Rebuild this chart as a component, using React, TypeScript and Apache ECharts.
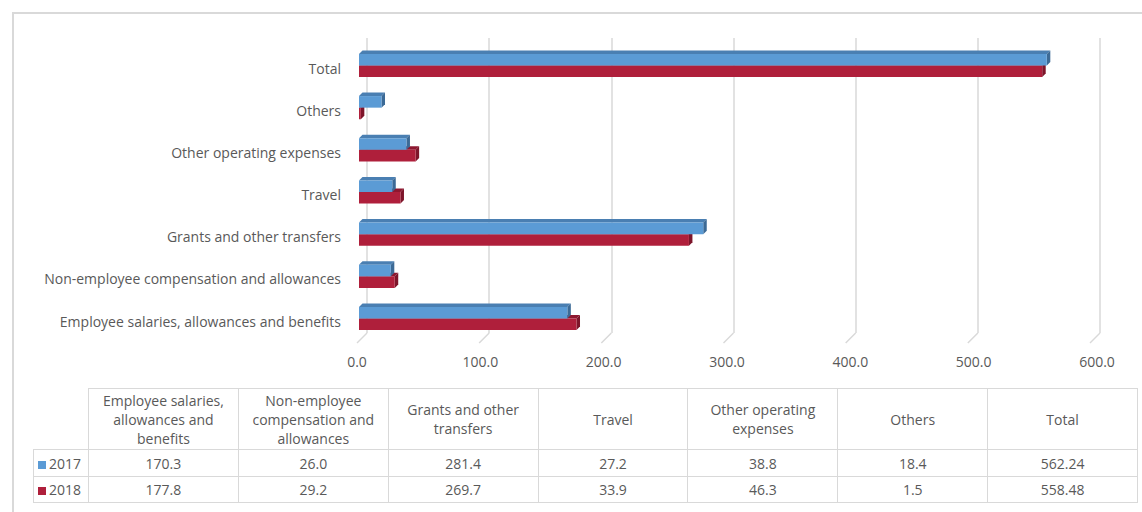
import React, { useEffect, useRef } from "react";
import * as echarts from "echarts";

const categories = [
  "Employee salaries, allowances and benefits",
  "Non-employee compensation and allowances",
  "Grants and other transfers",
  "Travel",
  "Other operating expenses",
  "Others",
  "Total",
];
const tableHeaders = [
  "Employee salaries,\nallowances and\nbenefits",
  "Non-employee\ncompensation and\nallowances",
  "Grants and other\ntransfers",
  "Travel",
  "Other operating\nexpenses",
  "Others",
  "Total",
];
const values2017 = [170.3, 26.0, 281.4, 27.2, 38.8, 18.4, 562.24];
const values2018 = [177.8, 29.2, 269.7, 33.9, 46.3, 1.5, 558.48];
const tableDecimals = [1, 1, 1, 1, 1, 1, 2];
const seriesNames = ["2017", "2018"];
const axisMin = 0;
const axisMax = 600;
const axisInterval = 100;
const wallTicks = [0, 100, 200, 300, 400, 500, 600];

const FONT = "'Open Sans', 'Noto Sans', sans-serif";
const TEXT = "#595959";
const GRID = "#D9D9D9";
const BLUE = { front: "#5B9BD5", top: "#4A7FB2", side: "#3C6A96" };
const RED = { front: "#AF1F3B", top: "#8E1830", side: "#7D152A" };

function bar3D(colors: any, upper: boolean) {
  return (params: any, api: any) => {
    const v = api.value(0);
    const cat = api.value(1);
    const p0 = api.coord([0, cat]);
    const p1 = api.coord([v, cat]);
    const band = api.size([0, 1])[1];
    const h = band * 0.275;
    const d = 3.5;
    const x0 = p0[0];
    const x1 = p1[0];
    const yTop = upper ? p0[1] - h : p0[1];
    return {
      type: "group",
      children: [
        {
          type: "polygon",
          shape: { points: [[x0, yTop], [x0 + d, yTop - d], [x1 + d, yTop - d], [x1, yTop]] },
          style: { fill: colors.top },
        },
        {
          type: "polygon",
          shape: { points: [[x1, yTop], [x1 + d, yTop - d], [x1 + d, yTop + h - d], [x1, yTop + h]] },
          style: { fill: colors.side },
        },
        {
          type: "rect",
          shape: { x: x0, y: yTop, width: Math.max(x1 - x0, 0.5), height: h },
          style: { fill: colors.front },
        },
      ],
    };
  };
}

export default function App() {
  const ref = useRef<HTMLDivElement>(null);
  useEffect(() => {
    if (!ref.current) return;
    const chart = echarts.init(ref.current, null, { renderer: "svg" });
    const hiddenAxis = {
      axisLabel: { show: false },
      axisLine: { show: false },
      axisTick: { show: false },
      splitLine: { show: false },
    };
    chart.setOption({
      animation: false,
      textStyle: { fontFamily: FONT },
      grid: [
        { left: 359, width: 734, top: 44.4, height: 295.2 },
        { left: 367, width: 733, top: 38, height: 295 },
        { left: 357, width: 740, top: 343, height: 1 },
        { left: 359, width: 734, top: 47, height: 295.2 },
      ],
      xAxis: [
        { gridIndex: 0, type: "value", min: axisMin, max: axisMax, interval: axisInterval, ...hiddenAxis },
        {
          gridIndex: 1, type: "value", min: axisMin, max: axisMax, interval: axisInterval,
          axisLabel: { show: false }, axisLine: { show: false }, axisTick: { show: false },
          splitLine: { show: true, lineStyle: { color: GRID, width: 1.5 } },
        },
        {
          gridIndex: 2, type: "value", min: axisMin, max: axisMax, interval: axisInterval,
          axisLine: { show: false }, axisTick: { show: false }, splitLine: { show: false },
          axisLabel: { show: true, color: TEXT, fontSize: 14, fontFamily: FONT, margin: 10, formatter: (v: number) => v.toFixed(1) },
        },
        { gridIndex: 3, type: "value", min: axisMin, max: axisMax, interval: axisInterval, ...hiddenAxis },
      ],
      yAxis: [
        { gridIndex: 0, type: "category", data: categories, ...hiddenAxis },
        { gridIndex: 1, type: "value", min: 0, max: 1, show: false },
        { gridIndex: 2, type: "value", min: 0, max: 1, show: false },
        {
          gridIndex: 3, type: "category", data: categories,
          axisLine: { show: false }, axisTick: { show: false }, splitLine: { show: false },
          axisLabel: { color: TEXT, fontSize: 14, fontFamily: FONT, margin: 18 },
        },
      ],
      series: [
        {
          type: "custom",
          xAxisIndex: 1,
          yAxisIndex: 1,
          data: wallTicks.map((t) => [t, 0]),
          encode: { x: 0, y: 1 },
          renderItem: (params: any, api: any) => {
            const p = api.coord([api.value(0), 0]);
            return {
              type: "line",
              shape: { x1: p[0], y1: p[1], x2: p[0] - 10, y2: p[1] + 10 },
              style: { stroke: GRID, lineWidth: 1.5 },
            };
          },
          silent: true,
        },
        {
          type: "custom",
          name: seriesNames[1],
          xAxisIndex: 0,
          yAxisIndex: 0,
          data: values2018.map((v, i) => [v, i]),
          encode: { x: 0, y: 1 },
          renderItem: bar3D(RED, false),
        },
        {
          type: "custom",
          name: seriesNames[0],
          xAxisIndex: 0,
          yAxisIndex: 0,
          data: values2017.map((v, i) => [v, i]),
          encode: { x: 0, y: 1 },
          renderItem: bar3D(BLUE, true),
        },
      ],
    });
    return () => chart.dispose();
  }, []);

  const cellBase: React.CSSProperties = {
    border: `1px solid ${GRID}`,
    textAlign: "center",
    verticalAlign: "middle",
    padding: 0,
    color: TEXT,
    fontSize: 14,
    fontFamily: FONT,
  };
  const rows = [
    { name: seriesNames[0], color: BLUE.front, values: values2017 },
    { name: seriesNames[1], color: RED.front, values: values2018 },
  ];
  const colW = 149.86;

  return (
    <div style={{ position: "fixed", left: 0, top: 0, width: 1142, height: 512, overflow: "hidden", background: "#fff" }}>
      <div style={{ position: "absolute", left: 12, top: 12, width: 1300, height: 700, border: `2px solid ${GRID}`, boxSizing: "border-box" }} />
      <div ref={ref} style={{ position: "absolute", left: 0, top: 0, width: 1142, height: 512 }} />
      <table
        style={{ position: "absolute", left: 33, top: 388, borderCollapse: "collapse", tableLayout: "fixed", width: 55 + colW * 7 }}
      >
        <colgroup>
          <col style={{ width: 55 }} />
          {categories.map((c) => (
            <col key={c} style={{ width: colW }} />
          ))}
        </colgroup>
        <tbody>
          <tr style={{ height: 61 }}>
            <td style={{ ...cellBase, border: "none" }}></td>
            {tableHeaders.map((h) => (
              <td key={h} style={{ ...cellBase, whiteSpace: "pre-line", lineHeight: "19px" }}>
                {h}
              </td>
            ))}
          </tr>
          {rows.map((r, ri) => (
            <tr key={r.name} style={{ height: ri === 0 ? 27 : 26 }}>
              <td style={{ ...cellBase, textAlign: "left", paddingLeft: 4, whiteSpace: "nowrap" }}>
                <span style={{ display: "inline-block", width: 8, height: 8, background: r.color, marginRight: 3 }} />
                {r.name}
              </td>
              {r.values.map((v, i) => (
                <td key={i} style={cellBase}>
                  {v.toFixed(tableDecimals[i])}
                </td>
              ))}
            </tr>
          ))}
        </tbody>
      </table>
    </div>
  );
}
